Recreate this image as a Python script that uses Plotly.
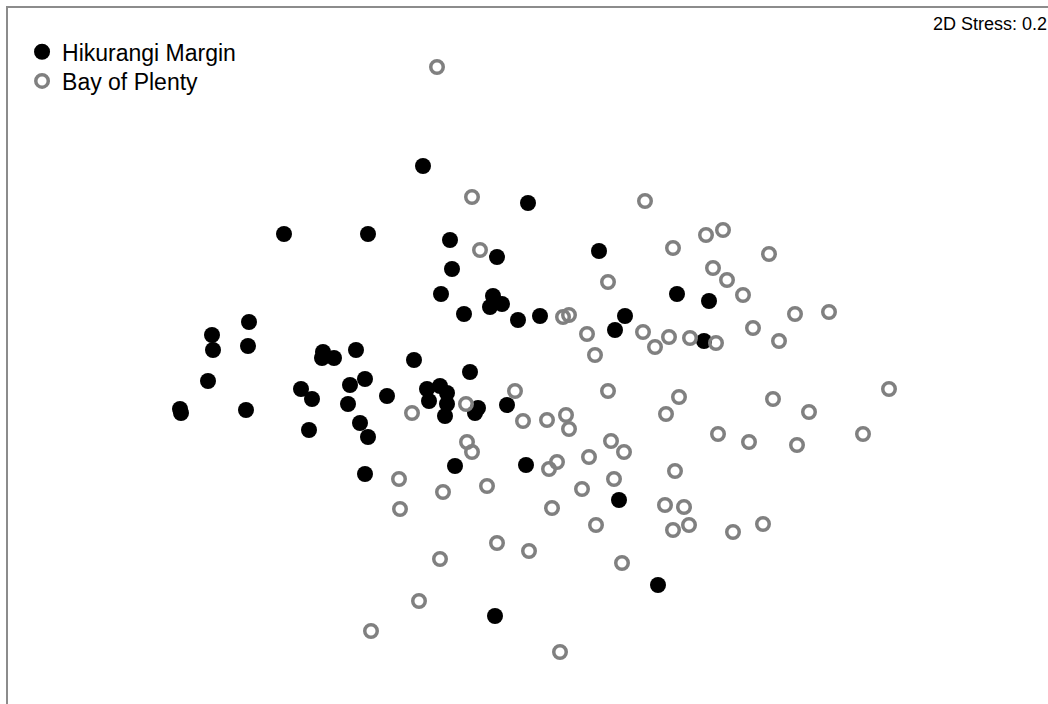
import plotly.graph_objects as go

# NMDS ordination scores (arbitrary units) for each sample
hik_x = [-1.05, 0.00, -2.44, -1.60, -0.78, -0.31, -0.76, 0.71, -0.87, -0.35,
         -0.26, -0.38, -0.64, -0.10, 0.12, 1.49, 1.81, 0.97, 0.87, 1.76,
         -2.79, -3.16, -3.15, -2.80, -2.05, -2.06, -1.94, -1.72, -1.14, -0.58,
         -3.20, -3.48, -3.47, -2.82, -2.27, -2.16, -1.78, -1.63, -1.80, -1.41,
         -1.68, -1.60, -2.19, -1.63, -1.01, -0.88, -0.81, -0.99, -0.81, -0.83,
         -0.50, -0.53, -0.21, -0.73, -0.02, 0.91, 1.30, -0.33]
hik_y = [1.90, 1.53, 1.22, 1.22, 1.16, 0.99, 0.87, 1.05, 0.62, 0.60,
         0.52, 0.49, 0.42, 0.36, 0.40, 0.62, 0.55, 0.40, 0.26, 0.15,
         0.34, 0.21, 0.06, 0.10, 0.04, -0.02, -0.02, 0.06, -0.04, -0.16,
         -0.25, -0.53, -0.57, -0.54, -0.33, -0.43, -0.29, -0.23, -0.48, -0.40,
         -0.67, -0.81, -0.74, -1.18, -0.33, -0.30, -0.37, -0.45, -0.48, -0.60,
         -0.52, -0.57, -0.49, -1.10, -1.09, -1.44, -2.29, -2.60]

bop_x = [-0.91, -0.56, 1.17, -0.48, 1.45, 1.78, 1.95, 2.41, 0.80, 1.85,
         1.99, 2.15, 2.67, 3.01, 0.35, 0.41, 0.59, 0.67, 1.15, 1.27,
         1.41, 1.62, 1.88, 2.25, 2.51, -0.13, -0.62, -1.16, 0.80, 1.51,
         2.45, 2.81, 3.61, 1.38, -0.05, 0.19, 0.38, 0.41, 1.90, 2.21,
         2.69, 3.35, -0.61, -0.56, 0.83, 0.96, 0.61, 0.29, 0.21, 1.47,
         0.86, 0.54, -0.41, -1.29, -0.85, -1.28, 0.24, 0.68, 1.37, 1.56,
         1.61, 1.45, 2.05, 2.35, -0.31, 0.01, -0.88, 0.94, -1.09, -1.57,
         0.32]
bop_y = [2.89, 1.59, 1.55, 1.06, 1.08, 1.21, 1.26, 1.02, 0.74, 0.88,
         0.76, 0.61, 0.42, 0.44, 0.39, 0.41, 0.22, 0.01, 0.24, 0.09,
         0.19, 0.18, 0.13, 0.28, 0.15, -0.35, -0.48, -0.57, -0.35, -0.41,
         -0.43, -0.56, -0.33, -0.58, -0.65, -0.64, -0.59, -0.73, -0.78, -0.86,
         -0.89, -0.78, -0.86, -0.96, -0.85, -0.96, -1.01, -1.06, -1.13, -1.15,
         -1.23, -1.33, -1.30, -1.23, -1.36, -1.53, -1.52, -1.69, -1.49, -1.51,
         -1.69, -1.74, -1.76, -1.68, -1.87, -1.95, -2.03, -2.07, -2.45, -2.75,
         -2.96]

group_names = ["Hikurangi Margin", "Bay of Plenty"]
stress_label = "2D Stress: 0.2"

FONT = "Liberation Sans, Arial, sans-serif"

fig = go.Figure()
fig.add_trace(go.Scatter(
    x=hik_x, y=hik_y, mode="markers", name=group_names[0], legend="legend",
    marker=dict(symbol="circle", size=16, color="#000000", line=dict(width=0)),
))
fig.add_trace(go.Scatter(
    x=bop_x, y=bop_y, mode="markers", name=group_names[1], legend="legend2",
    marker=dict(symbol="circle-open", size=12.5, color="#808080",
                line=dict(width=3.5)),
))

fig.add_annotation(
    text=stress_label, xref="paper", yref="paper",
    x=0.8875, y=0.977, xanchor="left", yanchor="middle", showarrow=False,
    font=dict(family=FONT, size=18, color="#000000"),
)

axis_common = dict(showgrid=False, zeroline=False, showticklabels=False,
                   ticks="", showline=True, linecolor="#8c8c8c", linewidth=2)

legend_common = dict(
    x=0.0135, xanchor="left", yanchor="top",
    bgcolor="rgba(0,0,0,0)", borderwidth=0,
    font=dict(family=FONT, size=23, color="#000000"),
    itemsizing="trace",
)

fig.update_layout(
    width=1048, height=704,
    margin=dict(l=8, t=8, r=0, b=0),
    paper_bgcolor="white", plot_bgcolor="white",
    xaxis=dict(range=[-5.20, 5.20], side="top", **axis_common),
    yaxis=dict(range=[-3.48, 3.48], **axis_common),
    showlegend=True,
    legend=dict(y=0.968, **legend_common),
    legend2=dict(y=0.926, **legend_common),
    font=dict(family=FONT),
)

fig.write_html("out.html")
